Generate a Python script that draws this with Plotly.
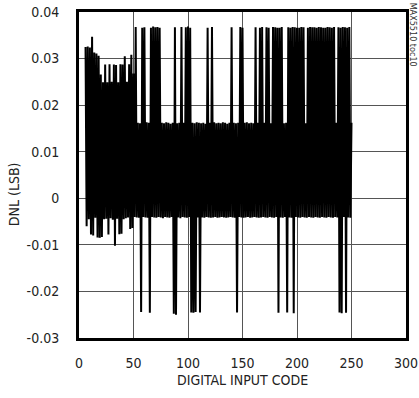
import plotly.graph_objects as go

# Digital input codes covered by the measurement
codes = list(range(6, 251))

# DNL (LSB) for codes 6..49
dnl_low_codes = [
    0.0325, -0.0060, 0.0326, -0.0045, 0.0324, -0.0078, 0.0347, -0.0080, 0.0313, -0.0042,
    0.0311, -0.0084, 0.0306, -0.0085, 0.0266, -0.0083, 0.0249, -0.0045, 0.0287, -0.0044,
    0.0249, -0.0078, 0.0288, -0.0043, 0.0250, -0.0046, 0.0287, -0.0102, 0.0286, -0.0044,
    0.0249, -0.0077, 0.0288, -0.0076, 0.0287, -0.0045, 0.0305, -0.0043, 0.0250, -0.0041,
    0.0288, -0.0066, 0.0308, -0.0064,
]

# DNL (LSB) for codes 50..250
dnl_high_codes = [
    0.0268, -0.0040, 0.0368, -0.0041, 0.0162, -0.0042, 0.0161, -0.0244, 0.0366, -0.0040,
    0.0367, -0.0041, 0.0163, -0.0042, 0.0162, -0.0246, 0.0366, -0.0040, 0.0369, -0.0041,
    0.0367, -0.0042, 0.0368, -0.0040, 0.0366, -0.0041, 0.0162, -0.0043, 0.0161, -0.0040,
    0.0163, -0.0041, 0.0162, -0.0042, 0.0160, -0.0040, 0.0162, -0.0248, 0.0367, -0.0250,
    0.0161, -0.0041, 0.0162, -0.0043, 0.0368, -0.0040, 0.0162, -0.0041, 0.0367, -0.0042,
    0.0369, -0.0040, 0.0366, -0.0245, 0.0162, -0.0246, 0.0161, -0.0244, 0.0163, -0.0041,
    0.0162, -0.0245, 0.0161, -0.0041, 0.0162, -0.0042, 0.0160, -0.0040, 0.0366, -0.0041,
    0.0162, -0.0042, 0.0368, -0.0041, 0.0163, -0.0040, 0.0161, -0.0042, 0.0162, -0.0041,
    0.0161, -0.0040, 0.0163, -0.0041, 0.0162, -0.0042, 0.0160, -0.0041, 0.0162, -0.0040,
    0.0367, -0.0041, 0.0162, -0.0042, 0.0161, -0.0245, 0.0162, -0.0040, 0.0368, -0.0041,
    0.0366, -0.0042, 0.0162, -0.0041, 0.0163, -0.0040, 0.0161, -0.0042, 0.0162, -0.0041,
    0.0161, -0.0040, 0.0367, -0.0041, 0.0162, -0.0042, 0.0366, -0.0041, 0.0368, -0.0040,
    0.0162, -0.0041, 0.0367, -0.0042, 0.0366, -0.0040, 0.0161, -0.0041, 0.0368, -0.0042,
    0.0367, -0.0040, 0.0366, -0.0246, 0.0366, -0.0041, 0.0368, -0.0042, 0.0161, -0.0040,
    0.0162, -0.0245, 0.0367, -0.0041, 0.0366, -0.0042, 0.0368, -0.0247, 0.0367, -0.0040,
    0.0366, -0.0041, 0.0366, -0.0042, 0.0368, -0.0040, 0.0367, -0.0041, 0.0161, -0.0042,
    0.0366, -0.0040, 0.0368, -0.0041, 0.0367, -0.0042, 0.0367, -0.0040, 0.0366, -0.0041,
    0.0368, -0.0042, 0.0367, -0.0040, 0.0366, -0.0041, 0.0366, -0.0042, 0.0368, -0.0040,
    0.0367, -0.0041, 0.0366, -0.0042, 0.0368, -0.0040, 0.0162, -0.0041, 0.0367, -0.0245,
    0.0366, -0.0247, 0.0368, -0.0040, 0.0367, -0.0246, 0.0366, -0.0041, 0.0368, -0.0042,
    0.0162,
]

dnl = dnl_low_codes + dnl_high_codes

x_ticks = [0, 50, 100, 150, 200, 250, 300]
y_ticks = [-0.03, -0.02, -0.01, 0, 0.01, 0.02, 0.03, 0.04]
y_tick_text = ["-0.03", "-0.02", "-0.01", "0", "0.01", "0.02", "0.03", "0.04"]

FONT = "DejaVu Sans Condensed, Liberation Sans, Arial, sans-serif"
TEXT = "#222222"

fig = go.Figure()
fig.add_trace(go.Scatter(
    x=codes, y=dnl, mode="lines",
    line=dict(color="black", width=2, simplify=False),
    showlegend=False, hoverinfo="skip",
))

axis_common = dict(
    showgrid=True, gridcolor="#555555", gridwidth=1,
    showline=True, linecolor="black", linewidth=3, mirror=True,
    zeroline=False, ticks="", automargin=False,
    tickfont=dict(family=FONT, size=14, color=TEXT),
)

fig.update_layout(
    width=419, height=398,
    margin=dict(l=79, r=13, t=12, b=60),
    paper_bgcolor="white", plot_bgcolor="white",
    xaxis=dict(range=[0, 300], tickvals=x_ticks, ticklabelstandoff=10, **axis_common),
    yaxis=dict(range=[-0.03, 0.04], tickvals=y_ticks, ticktext=y_tick_text,
               ticklabelstandoff=14, **axis_common),
    annotations=[
        dict(text="DIGITAL INPUT CODE", xref="paper", yref="paper",
             x=0.5, y=-0.13, xanchor="center", yanchor="middle", showarrow=False,
             font=dict(family=FONT, size=14, color=TEXT)),
        dict(text="DNL (LSB)", xref="paper", yref="paper", textangle=-90,
             x=-0.2, y=0.44, xanchor="center", yanchor="middle", showarrow=False,
             font=dict(family=FONT, size=14, color=TEXT)),
        dict(text="MAX5510 toc10", xref="paper", yref="paper", textangle=90,
             x=1.022, y=0.93, xanchor="center", yanchor="middle", showarrow=False,
             font=dict(family=FONT, size=9, color="#333333")),
    ],
)

fig.write_html("out.html")
